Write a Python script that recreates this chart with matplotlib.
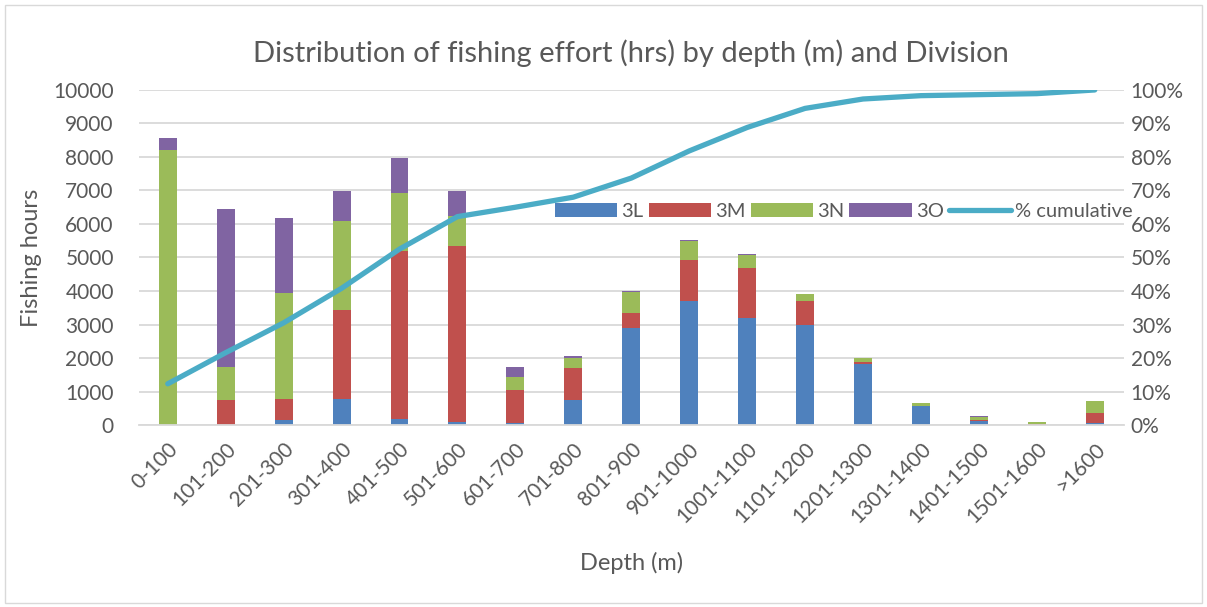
import matplotlib.pyplot as plt
import numpy as np
from matplotlib.patches import Rectangle

plt.rcParams['font.family'] = ['Lato', 'DejaVu Sans']

depths = ['0-100', '101-200', '201-300', '301-400', '401-500', '501-600', '601-700',
          '701-800', '801-900', '901-1000', '1001-1100', '1101-1200', '1201-1300',
          '1301-1400', '1401-1500', '1501-1600', '>1600']

div_3L = [0, 0, 150, 770, 190, 100, 60, 740, 2890, 3690, 3190, 3000, 1830, 560, 130, 0, 60]
div_3M = [0, 740, 640, 2670, 5010, 5240, 1000, 960, 440, 1230, 1490, 690, 40, 0, 30, 30, 310]
div_3N = [8200, 1000, 3150, 2660, 1710, 910, 380, 290, 650, 570, 400, 220, 130, 100, 85, 50, 340]
div_3O = [380, 4720, 2230, 870, 1060, 730, 300, 60, 20, 30, 20, 0, 0, 0, 15, 0, 0]
pct_cumulative = [12.3, 21.6, 30.5, 40.8, 52.5, 62.2, 65.0, 68.0, 73.7, 81.8, 88.8,
                  94.5, 97.3, 98.3, 98.6, 98.9, 100.0]

c_blue, c_red, c_green, c_purple, c_line = '#4F81BD', '#C0504D', '#9BBB59', '#8064A2', '#4BACC6'
txt = '#595959'
grid = '#D9D9D9'

fig = plt.figure(figsize=(12.07, 6.07), dpi=100)
ax = fig.add_axes([0.115, 0.2998, 0.816, 0.552])
x = np.arange(len(depths))
w = 0.31

b = np.zeros(len(depths))
bars = []
for vals, col, lab in [(div_3L, c_blue, '3L'), (div_3M, c_red, '3M'),
                       (div_3N, c_green, '3N'), (div_3O, c_purple, '3O')]:
    bars.append(ax.bar(x, vals, w, bottom=b, color=col, label=lab, zorder=2))
    b += np.array(vals)

ax.set_ylim(0, 10000)
ax.set_yticks(np.arange(0, 10001, 1000))
ax.set_xlim(-0.5, len(depths) - 0.5)
ax.set_xticks(x)
ax.set_xticklabels(depths, rotation=45, ha='right', rotation_mode='anchor')
ax.grid(axis='y', color=grid, linewidth=1.3, zorder=0)
ax.set_axisbelow(True)
for s in ['top', 'right', 'left']:
    ax.spines[s].set_visible(False)
ax.spines['bottom'].set_color(grid)
ax.spines['bottom'].set_linewidth(1.3)
ax.tick_params(length=0, labelsize=15, colors=txt)
ax.tick_params(axis='y', pad=18)
ax.tick_params(axis='x', pad=10)
ax.set_ylabel('Fishing hours', fontsize=17, color=txt, labelpad=8)
ax.set_xlabel('Depth (m)', fontsize=17, color=txt, labelpad=18)
ax.set_title('Distribution of fishing effort (hrs) by depth (m) and Division',
             fontsize=21, color=txt, pad=20)

ax2 = ax.twinx()
ax2.set_position(ax.get_position())
line, = ax2.plot(x, pct_cumulative, color=c_line, linewidth=3.8,
                 solid_capstyle='round', label='% cumulative')
ax2.set_ylim(0, 100)
ax2.set_yticks(np.arange(0, 101, 10))
ax2.set_yticklabels([f'{v}%' for v in range(0, 101, 10)])
for s in ax2.spines.values():
    s.set_visible(False)
ax2.tick_params(length=0, labelsize=15, colors=txt, pad=5)

handles = bars + [line]
ax2.legend(handles, ['3L', '3M', '3N', '3O', '% cumulative'], ncol=5, frameon=False,
           loc='center', bbox_to_anchor=(0.716, 0.636), fontsize=14.5, labelcolor=txt,
           handlelength=3.1, handleheight=0.7, columnspacing=0.25, handletextpad=0.2)

fig.add_artist(Rectangle((0.004, 0.006), 0.992, 0.986, transform=fig.transFigure,
                         fill=False, edgecolor=grid, linewidth=1))

fig.savefig('out.png', dpi=100)
